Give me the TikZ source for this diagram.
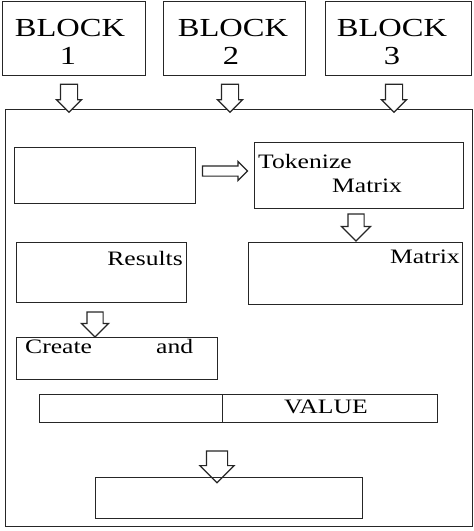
\documentclass[tikz,border=0pt]{standalone}
\usepackage{fontspec}
\setmainfont{Liberation Serif}[FakeStretch=1.25]
\usetikzlibrary{shapes.arrows}
\tikzset{
  box/.style={draw=black!85, line width=1.4pt, rectangle, inner sep=0pt, anchor=north west},
  lbl/.style={anchor=base west, inner sep=0pt, font=\fontsize{20.5}{24}\selectfont},
  blk/.style={anchor=base, inner sep=0pt, font=\fontsize{26}{29}\selectfont},
  barrow/.style={draw=black!85, line width=1.2pt, single arrow,
    shape border rotate=#1, fill=white},
}
\begin{document}
\begin{tikzpicture}[x=1pt,y=-1pt]
\useasboundingbox (0,0) rectangle (474,531);
% top blocks
\node[box, minimum width=143pt, minimum height=74pt] (b1) at (2,1) {};
\node[box, minimum width=142pt, minimum height=74pt] (b2) at (163,1) {};
\node[box, minimum width=146pt, minimum height=74pt] (b3) at (325,1) {};
\node[blk] (b1t) at (70,36) {BLOCK};
\node[blk] (b1n) at (68,64) {1};
\node[blk] (b2t) at (233,36) {BLOCK};
\node[blk] (b2n) at (231,64) {2};
\node[blk] (b3t) at (392,36) {BLOCK};
\node[blk] (b3n) at (392,64) {3};
% container
\node[box, minimum width=467pt, minimum height=417pt] (cont) at (5,109) {};
% top arrows
\node[barrow=270, inner sep=8pt, single arrow head extend=4pt, minimum height=28pt] (a1) at (69,94) {};
\node[barrow=270, inner sep=8pt, single arrow head extend=4pt, minimum height=28pt] (a2) at (230,94) {};
\node[barrow=270, inner sep=8pt, single arrow head extend=4pt, minimum height=28pt] (a3) at (394,94) {};
% inner boxes
\node[box, minimum width=181pt, minimum height=56pt] (bA) at (14,147) {};
\node[box, minimum width=209pt, minimum height=66pt] (bT) at (254,142) {};
\node[lbl] (tT1) at (258,168) {Tokenize};
\node[lbl] (tT2) at (332,192) {Matrix};
\node[barrow=0, inner sep=4.5pt, single arrow head extend=4.5pt, minimum height=45pt] (ah) at (222.5,171) {};
\node[barrow=270, inner sep=7.5pt, single arrow head extend=6.5pt, minimum height=27pt] (aT) at (356,223.5) {};
\node[box, minimum width=170pt, minimum height=60pt] (bR) at (16,242) {};
\node[lbl, anchor=base east] (tR) at (183,265) {Results};
\node[box, minimum width=214pt, minimum height=62pt] (bM) at (248,242) {};
\node[lbl, anchor=base east] (tM) at (460,263) {Matrix};
\node[barrow=270, inner sep=7.5pt, single arrow head extend=5.5pt, minimum height=25pt] (aR) at (95,320.5) {};
\node[box, minimum width=201pt, minimum height=42pt] (bC) at (16,337) {};
\node[lbl] (tC1) at (25,353) {Create};
\node[lbl] (tC2) at (156,353) {and};
\node[box, minimum width=183pt, minimum height=28pt] (bL) at (39,394) {};
\node[box, minimum width=215pt, minimum height=28pt] (bV) at (222,394) {};
\node[lbl, anchor=base] (tV) at (326,413) {VALUE};
\node[barrow=270, inner sep=10pt, single arrow head extend=6.5pt, minimum height=27pt] (aV) at (217,461.5) {};
\node[box, minimum width=267pt, minimum height=41pt] (bF) at (95,477) {};
\end{tikzpicture}
\end{document}
